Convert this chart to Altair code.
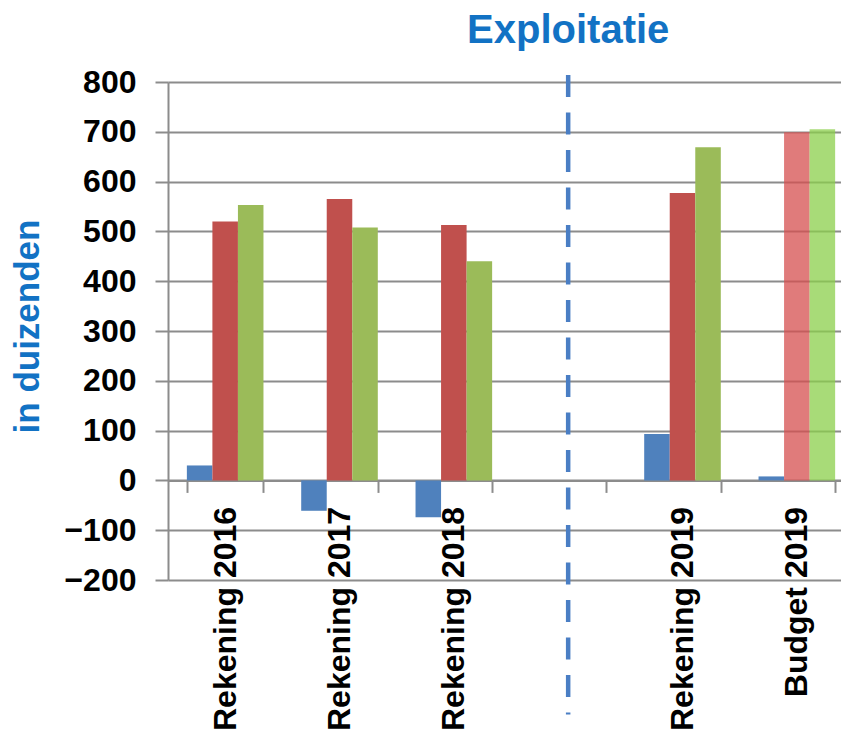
import altair as alt
import pandas as pd

categorieen = ["Rekening 2016", "Rekening 2017", "Rekening 2018", " ", "Rekening 2019", "Budget 2019"]
reeksen = ["Saldo", "Lasten", "Baten"]
saldo = [30, -61, -74, None, 93, 8]
lasten = [520, 565, 513, None, 577, 699]
baten = [553, 508, 440, None, 669, 705]
y_ticks = [-200, -100, 0, 100, 200, 300, 400, 500, 600, 700, 800]

kleur_keys = ["Saldo", "Lasten", "Baten", "Saldo budget", "Lasten budget", "Baten budget"]
kleur_range = ["#4F81BD", "#C0504D", "#9BBB59",
               "#4F81BD", "rgba(214,79,79,0.75)", "rgba(139,207,75,0.75)"]

rows = []
for i, c in enumerate(categorieen):
    for r, vals in zip(reeksen, [saldo, lasten, baten]):
        v = vals[i]
        if v is None:
            continue
        budget = c.startswith("Budget")
        rows.append({"cat": c, "reeks": r, "waarde": v,
                     "kleur": r + (" budget" if budget else "")})
df = pd.DataFrame(rows)
ann = pd.DataFrame({"cat": [" "]})

FONT = "Liberation Sans"
GRAY = "#8c8c8c"
BLUE = "#1272C4"

x_scale = alt.Scale(domain=categorieen, paddingInner=0.33, paddingOuter=0.165)
y_scale = alt.Scale(domain=[-200, 800], nice=False, zero=False)

x_axis = alt.Axis(title=None, orient="bottom", offset=-99.6, labelAngle=-90,
                  labelFont=FONT, labelFontSize=32, labelFontWeight="bold",
                  labelColor="black", labelPadding=14, labelLimit=500,
                  tickSize=12, tickColor=GRAY, tickWidth=2, tickBand="extent",
                  domainColor=GRAY, domainWidth=2, grid=False)
y_axis = alt.Axis(title="in duizenden", values=y_ticks, grid=True, gridColor=GRAY,
                  gridWidth=2, domainColor=GRAY, domainWidth=2, tickColor=GRAY,
                  tickWidth=2, tickSize=13, labelFont=FONT, labelFontSize=32,
                  labelFontWeight="bold", labelColor="black", labelPadding=19,
                  titleFont=FONT, titleFontSize=35, titleFontWeight="bold",
                  titleColor=BLUE, titleAngle=-90, titleX=-130, titleY=244,
                  titleAlign="center", titleBaseline="alphabetic")

bars = alt.Chart(df).mark_bar().encode(
    x=alt.X("cat:N", scale=x_scale, axis=x_axis, sort=categorieen),
    xOffset=alt.XOffset("reeks:N", sort=reeksen,
                        scale=alt.Scale(paddingInner=0, paddingOuter=0)),
    y=alt.Y("waarde:Q", scale=y_scale, axis=y_axis),
    color=alt.Color("kleur:N", scale=alt.Scale(domain=kleur_keys, range=kleur_range),
                    legend=None),
)

rule = alt.Chart(ann).mark_rule(strokeDash=[22, 15.5], strokeWidth=4.5,
                                color="#4A7EC4").encode(
    x=alt.X("cat:N", scale=x_scale, sort=categorieen),
    y=alt.YDatum(814, scale=y_scale),
    y2=alt.Y2Datum(-470),
)

titel = alt.Chart(ann).mark_text(text="Exploitatie", font=FONT, fontSize=40,
                                 fontWeight="bold", color=BLUE,
                                 baseline="alphabetic", align="center").encode(
    x=alt.X("cat:N", scale=x_scale, sort=categorieen),
    y=alt.YDatum(878, scale=y_scale),
)

chart = alt.layer(bars, rule, titel).properties(
    width=686, height=498,
    autosize=alt.AutoSizeParams(type="none"),
    padding={"left": 160, "top": 74, "right": -13, "bottom": 152},
).configure_view(stroke=None)

chart.save("out.html", embed_options={"renderer": "svg", "actions": False})
